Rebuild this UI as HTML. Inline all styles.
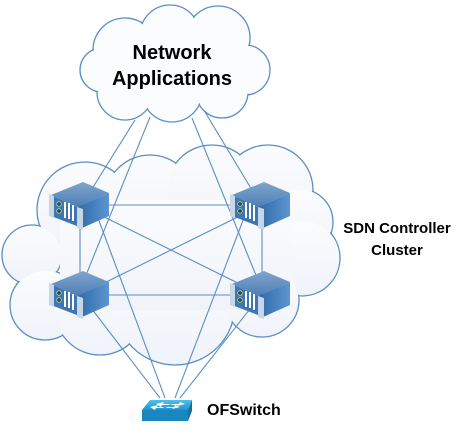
<!DOCTYPE html>
<html><head><meta charset="utf-8"><style>
html,body{margin:0;padding:0;background:#fff;width:469px;height:431px;overflow:hidden}
svg{display:block}
text{font-family:"Liberation Sans",Arial,sans-serif;font-weight:bold;fill:#000}
</style></head><body>
<svg width="469" height="431" viewBox="0 0 469 431" xmlns="http://www.w3.org/2000/svg">
<defs>
<linearGradient id="bg" x1="0" y1="0" x2="0" y2="1"><stop offset="0" stop-color="#fbfcfe"/><stop offset="1" stop-color="#f0f3f9"/></linearGradient>
<linearGradient id="top" x1="0" y1="0" x2="0" y2="1"><stop offset="0" stop-color="#7fa5cc"/><stop offset="1" stop-color="#4d7fb5"/></linearGradient>
<linearGradient id="side" x1="0" y1="0" x2="1" y2="0"><stop offset="0" stop-color="#2f6aa8"/><stop offset="1" stop-color="#5c95cf"/></linearGradient>
<linearGradient id="sw" x1="0" y1="0" x2="0" y2="1"><stop offset="0" stop-color="#52c0ea"/><stop offset="1" stop-color="#1e94cf"/></linearGradient>
<g id="srv">
<polygon points="2,15 34,2 60,13 28,27" fill="url(#top)"/>
<polygon points="28,27 60,13 60,36 33,48" fill="url(#side)"/>
<polygon points="2,15 28,27 33,48 2,36" fill="#3d76b3"/>
<polygon points="0,14 5,16 5,38 0,36" fill="#c9d6e6"/>
<polygon points="28,27 34,29 34,50 28,48" fill="#c9d6e6"/>
<circle cx="10" cy="24" r="2.3" fill="#2a4a3a" stroke="#b8d7b0" stroke-width="0.8"/>
<circle cx="10" cy="31" r="2.3" fill="#2a4a3a" stroke="#b8d7b0" stroke-width="0.8"/>
<rect x="15" y="22" width="2" height="16" fill="#fff"/>
<rect x="19" y="23" width="2" height="16" fill="#fff"/>
<rect x="23" y="25" width="2" height="16" fill="#fff"/>
</g>
</defs>
<!-- big cloud -->
<g stroke="#5b8ec6" stroke-width="1.3" fill="url(#bg)">
<circle cx="85" cy="210" r="48"/><circle cx="150" cy="200" r="45"/><circle cx="212" cy="190" r="45"/>
<circle cx="268" cy="190" r="45"/><circle cx="300" cy="222" r="33"/><circle cx="302" cy="258" r="38"/>
<circle cx="32" cy="255" r="30"/><circle cx="45" cy="305" r="35"/><circle cx="100" cy="310" r="45"/>
<circle cx="175" cy="305" r="60"/><circle cx="262" cy="300" r="37"/>
</g>
<g fill="url(#bg)">
<circle cx="85" cy="210" r="47"/><circle cx="150" cy="200" r="44"/><circle cx="212" cy="190" r="44"/>
<circle cx="268" cy="190" r="44"/><circle cx="300" cy="222" r="32"/><circle cx="302" cy="258" r="37"/>
<circle cx="32" cy="255" r="29"/><circle cx="45" cy="305" r="34"/><circle cx="100" cy="310" r="44"/>
<circle cx="175" cy="305" r="59"/><circle cx="262" cy="300" r="36"/>
<rect x="60" y="200" width="230" height="110"/>
</g>
<!-- top cloud -->
<g stroke="#5b8ec6" stroke-width="1.3" fill="#fbfcfe">
<circle cx="125" cy="50" r="32"/><circle cx="170" cy="35" r="30"/><circle cx="218" cy="38" r="32"/>
<circle cx="245" cy="70" r="25"/><circle cx="222" cy="92" r="26"/><circle cx="172" cy="92" r="30"/>
<circle cx="125" cy="92" r="28"/><circle cx="102" cy="70" r="22"/>
</g>
<g fill="#fbfcfe">
<circle cx="125" cy="50" r="31"/><circle cx="170" cy="35" r="29"/><circle cx="218" cy="38" r="31"/>
<circle cx="245" cy="70" r="24"/><circle cx="222" cy="92" r="25"/><circle cx="172" cy="92" r="29"/>
<circle cx="125" cy="92" r="27"/><circle cx="102" cy="70" r="21"/>
<rect x="110" y="40" width="130" height="60"/>
</g>
<!-- connectors -->
<g stroke="#5b8ec6" stroke-width="1.1" fill="none">
<line x1="135" y1="120" x2="85" y2="200"/>
<line x1="150" y1="117" x2="80" y2="290"/>
<line x1="192" y1="118" x2="262" y2="290"/>
<line x1="205" y1="112" x2="258" y2="200"/>
<line x1="80" y1="205" x2="262" y2="205"/>
<line x1="80" y1="295" x2="262" y2="295"/>
<line x1="80" y1="205" x2="80" y2="295"/>
<line x1="262" y1="205" x2="262" y2="295"/>
<line x1="80" y1="205" x2="262" y2="295"/>
<line x1="262" y1="205" x2="80" y2="295"/>
<line x1="95" y1="210" x2="165" y2="398"/>
<line x1="247" y1="210" x2="175" y2="398"/>
<line x1="85" y1="300" x2="160" y2="398"/>
<line x1="257" y1="300" x2="180" y2="398"/>
</g>
<use href="#srv" x="49" y="180"/>
<use href="#srv" x="230" y="180"/>
<use href="#srv" x="49" y="269"/>
<use href="#srv" x="230" y="269"/>
<!-- switch -->
<polygon points="150,400 192,400 188,410 142,410" fill="url(#sw)"/>
<polygon points="142,410 188,410 188,421 142,421" fill="#1a86bf"/>
<polygon points="188,410 192,400 192,411 188,421" fill="#156fa0"/>
<g fill="#fff"><polygon points="156,404 164,402 163,404 170,404 169,405 162,405 161,407"/><polygon points="185,404 177,406 178,405 171,405 172,404 179,404 180,402"/><polygon points="150,407 158,405 157,407 164,407 163,408 156,408 155,410"/><polygon points="180,407 172,409 173,408 166,408 167,407 174,407 175,405"/></g>
<text x="172" y="59" font-size="20" text-anchor="middle">Network</text>
<text x="172" y="85" font-size="20" text-anchor="middle">Applications</text>
<text x="397" y="233" font-size="15" text-anchor="middle">SDN Controller</text>
<text x="397" y="255" font-size="15" text-anchor="middle">Cluster</text>
<text x="207" y="415" font-size="16">OFSwitch</text>
</svg>
</body></html>
